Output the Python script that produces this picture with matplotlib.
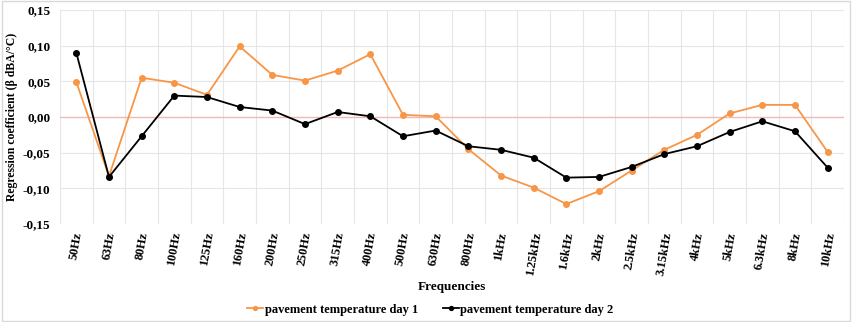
import matplotlib
matplotlib.use("Agg")
import matplotlib.pyplot as plt
from matplotlib.ticker import FuncFormatter
from matplotlib.patches import Rectangle

plt.rcParams["font.family"] = ["Liberation Serif", "DejaVu Serif"]
plt.rcParams["font.weight"] = "bold"

frequencies = ["50Hz", "63Hz", "80Hz", "100Hz", "125Hz", "160Hz", "200Hz", "250Hz",
               "315Hz", "400Hz", "500Hz", "630Hz", "800Hz", "1kHz", "1.25kHz", "1.6kHz",
               "2kHz", "2.5kHz", "3.15kHz", "4kHz", "5kHz", "6.3kHz", "8kHz", "10kHz"]

day1 = [0.049, -0.083, 0.055, 0.048, 0.031, 0.099, 0.059, 0.051,
        0.065, 0.088, 0.003, 0.001, -0.045, -0.082, -0.099, -0.122,
        -0.104, -0.075, -0.046, -0.025, 0.005, 0.017, 0.017, -0.049]

day2 = [0.090, -0.084, -0.027, 0.030, 0.028, 0.014, 0.009, -0.010,
        0.007, 0.001, -0.027, -0.019, -0.041, -0.046, -0.057, -0.085,
        -0.084, -0.070, -0.052, -0.041, -0.021, -0.006, -0.020, -0.071]

y_ticks = [-0.15, -0.10, -0.05, 0.00, 0.05, 0.10, 0.15]

ORANGE = "#F79646"
BLACK = "#000000"

fig = plt.figure(figsize=(8.52, 3.22), dpi=100)
ax = fig.add_axes([0.0704, 0.3043, 0.9202, 0.6647])

x = list(range(len(frequencies)))

ax.plot(x, day1, color=ORANGE, marker="o", markersize=4, linewidth=1.3,
        label="pavement temperature day 1", zorder=3)
ax.plot(x, day2, color=BLACK, marker="o", markersize=4, linewidth=1.3,
        label="pavement temperature day 2", zorder=4)

ax.axhline(0, color="#F2B8B8", linewidth=1.0, zorder=2)

ax.set_xlim(-0.5, len(frequencies) - 0.5)
ax.set_ylim(-0.15, 0.15)
ax.set_yticks(y_ticks)
ax.yaxis.set_major_formatter(FuncFormatter(lambda v, p: f"{v:.2f}".replace(".", ",").replace("-0,00", "0,00")))

ax.set_xticks(x)
ax.set_xticklabels(frequencies, rotation=80, fontsize=9, fontweight="bold",
                   ha="center", va="top")
ax.tick_params(axis="y", labelsize=9.5, length=0, pad=7)
ax.tick_params(axis="x", length=0, pad=5)

for b in [i + 0.5 for i in range(-1, len(frequencies))]:
    ax.axvline(b, color="#E6E6E6", linewidth=0.8, zorder=0)
for yv in y_ticks:
    if yv != 0:
        ax.axhline(yv, color="#E6E6E6", linewidth=0.8, zorder=0)

for s in ax.spines.values():
    s.set_visible(False)

ax.set_ylabel("Regression coefficient (β dBA/°C)", fontsize=8.5, fontweight="bold", labelpad=3)
ax.set_xlabel("Frequencies", fontsize=9.5, fontweight="bold", labelpad=3)

fig.legend(loc="lower center", bbox_to_anchor=(0.505, -0.015), ncol=2, frameon=False,
           fontsize=9, handlelength=1.3, handletextpad=0.1, columnspacing=2.0,
           markerscale=0.7)

fig.patches.append(Rectangle((0.002, 0.003), 0.996, 0.994, transform=fig.transFigure,
                             fill=False, edgecolor="#D9D9D9", linewidth=1.0))

fig.savefig("out.png", dpi=100)
